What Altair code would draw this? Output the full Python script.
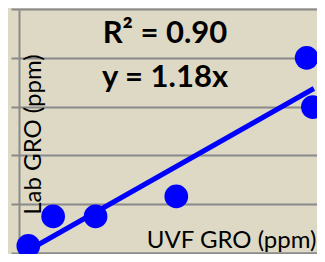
import altair as alt
import pandas as pd

# Data
uvf_gro = [0.9, 3.3, 7.4, 15.2, 27.8, 28.4]
lab_gro = [1.45, 7.5, 7.5, 11.6, 40.0, 29.9]
trend_x = [1.85, 28.5]
trend_y = [1.7, 33.7]
x_ticks = [0, 10, 20]
y_ticks = [0, 10, 20, 30, 40, 50]
r2_label = "R² = 0.90"
eq_label = "y = 1.18x"

pts = pd.DataFrame({"uvf": uvf_gro, "lab": lab_gro})
trend = pd.DataFrame({"uvf": trend_x, "lab": trend_y})

GRAY = "#8a8a8a"
BLUE = "#0000FF"
BG = "#DDD9C4"

x_scale = alt.Scale(domain=[0, 28.8], nice=False, zero=False)
y_scale = alt.Scale(domain=[0, 50], nice=False, zero=False)

x_axis = alt.Axis(
    values=x_ticks, labels=False, tickSize=8, tickColor=GRAY, tickWidth=2,
    domainColor=GRAY, domainWidth=2, grid=False,
    title="UVF GRO (ppm)", titleX=297, titleY=-6, titleAlign="right",
    titleBaseline="alphabetic", titleFont="Lato", titleFontSize=24,
    titleFontWeight="normal", titleColor="black",
)
y_axis = alt.Axis(
    values=y_ticks, labels=False, tickSize=8, tickColor=GRAY, tickWidth=2,
    domainColor=GRAY, domainWidth=2, grid=True, gridColor=GRAY, gridWidth=2,
    title="Lab GRO (ppm)", titleAngle=270, titleX=21, titleY=125,
    titleAlign="center", titleBaseline="alphabetic", titleFont="Lato",
    titleFontSize=24, titleFontWeight="normal", titleColor="black",
)

line = alt.Chart(trend).mark_line(color=BLUE, strokeWidth=5, strokeCap="butt").encode(
    x=alt.X("uvf:Q", scale=x_scale, axis=x_axis),
    y=alt.Y("lab:Q", scale=y_scale, axis=y_axis),
)

points = alt.Chart(pts).mark_circle(size=560, color=BLUE, opacity=1).encode(
    x=alt.X("uvf:Q", scale=x_scale, axis=x_axis),
    y=alt.Y("lab:Q", scale=y_scale, axis=y_axis),
)

one = alt.Data(values=[{}])
t1 = alt.Chart(one).mark_text(
    font="Lato", fontSize=31, fontWeight="bold", color="black",
    align="center", baseline="alphabetic",
).encode(x=alt.value(146), y=alt.value(34), text=alt.value(r2_label))
t2 = alt.Chart(one).mark_text(
    font="Lato", fontSize=31, fontWeight="bold", color="black",
    align="center", baseline="alphabetic",
).encode(x=alt.value(146), y=alt.value(78), text=alt.value(eq_label))

chart = alt.layer(line, points, t1, t2).properties(
    width=298, height=244, background=BG,
    padding={"left": 11, "top": 1, "right": 0, "bottom": 1},
    autosize=alt.AutoSizeParams(type="none"),
).configure_view(strokeWidth=0)

chart.save("out.html", embed_options={"renderer": "svg", "actions": False})
